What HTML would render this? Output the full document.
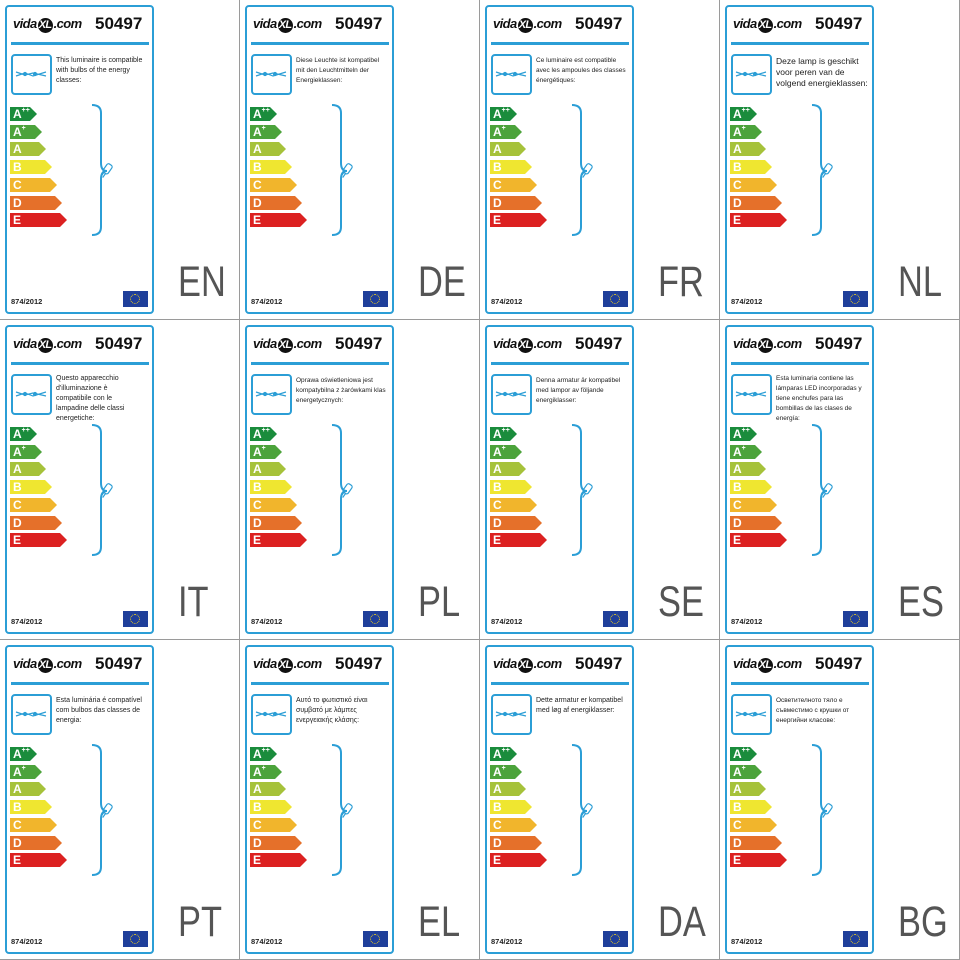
<!DOCTYPE html>
<html><head><meta charset="utf-8"><style>
*{margin:0;padding:0;box-sizing:border-box}
body{width:960px;height:960px;background:#fff;position:relative;overflow:hidden;font-family:"Liberation Sans","DejaVu Sans",sans-serif}
.cell{position:absolute;width:240px;height:320px;border-right:1px solid #9a9a9a;border-bottom:1px solid #9a9a9a}
.lab{position:absolute;left:5px;top:5px;width:149px;height:309px;border:2px solid #2b9ed6;border-radius:4px}
.logo{position:absolute;left:13px;top:16px;font:italic bold 13px "Liberation Sans",sans-serif;color:#111;letter-spacing:-0.6px}
.logo b{display:inline-block;background:#111;color:#fff;border-radius:50%;width:15px;height:15px;text-align:center;font-size:11px;line-height:15px;margin:0 1px}
.num{position:absolute;left:95px;top:14px;font:bold 17px "Liberation Sans",sans-serif;color:#111}
.hl{position:absolute;left:11px;top:42px;width:138px;height:3px;background:#2b9ed6}
.box{position:absolute;left:11px;top:54px;width:41px;height:41px;border:2.5px solid #2b9ed6;border-radius:4px}
.txt{position:absolute;left:56px;top:56px;width:96px;font:7px/10px "Liberation Sans","DejaVu Sans",sans-serif;color:#222;white-space:nowrap}
.bar{position:absolute;left:10px;height:14px;color:#fff;font:bold 12px/14px "Liberation Sans",sans-serif;padding-left:3px;clip-path:polygon(0 0,calc(100% - 7px) 0,100% 50%,calc(100% - 7px) 100%,0 100%)}
.bar sup{font-size:7px;vertical-align:top;line-height:8px}
.reg{position:absolute;left:11px;top:297px;font:bold 7.5px "Liberation Sans",sans-serif;color:#222}
.eu{position:absolute;left:123px;top:291px;width:25px;height:16px;background:#1f3f9a}
.eu i{position:absolute;left:7px;top:3px;width:10px;height:10px;border:1.5px dotted #f4d21c;border-radius:50%}
.lang{position:absolute;left:178px;top:258px;font:43px "Liberation Sans",sans-serif;color:#555;transform:scaleX(0.8);transform-origin:0 0}
.br{position:absolute;left:84px;top:103px}
</style></head><body>
<svg width="0" height="0" style="position:absolute"><defs>
<symbol id="bk" viewBox="0 0 30 135"><path d="M3 2 Q12 2 12 10 L12 60 Q12 68 18 68 Q12 68 12 76 L12 124 Q12 132 3 132" fill="none" stroke="#2b9ed6" stroke-width="2"/><g transform="translate(19,60) rotate(35)" stroke="#2b9ed6" stroke-width="1.2" fill="none"><rect x="0" y="0" width="6" height="10" rx="2"/><line x1="2" y1="10" x2="2" y2="15"/><line x1="4" y1="10" x2="4" y2="15"/></g></symbol>
<symbol id="lm" viewBox="0 0 36 36"><g stroke="#2b9ed6" stroke-width="1.2" fill="none"><path d="M3 16 L12 19 L20 17 L33 20"/><path d="M3 20 L12 17 L20 20 L33 16"/><circle cx="12" cy="18" r="1.5" fill="#2b9ed6"/><circle cx="22" cy="18" r="1.5" fill="#2b9ed6"/></g></symbol>
</defs></svg>

<div class="cell" style="left:0;top:0"><div class="lab"></div><div class="logo">vida<b>XL</b>.com</div><div class="num">50497</div><div class="hl"></div><div class="box"><svg width="36" height="36"><use href="#lm"/></svg></div>
<div class="txt">This luminaire is compatible<br>with bulbs of the energy<br>classes:</div>
<div class="bar" style="top:107px;width:27px;background:#1a8c3c">A<sup>++</sup></div><div class="bar" style="top:125px;width:32px;background:#4ca33b">A<sup>+</sup></div><div class="bar" style="top:142px;width:36px;background:#a6c23a">A</div><div class="bar" style="top:160px;width:42px;background:#efe630">B</div><div class="bar" style="top:178px;width:47px;background:#f1b52c">C</div><div class="bar" style="top:196px;width:52px;background:#e5702a">D</div><div class="bar" style="top:213px;width:57px;background:#dc2121">E</div>
<svg class="br" width="40" height="135"><use href="#bk"/></svg><div class="reg">874/2012</div><div class="eu"><i></i></div><div class="lang">EN</div></div>

<div class="cell" style="left:240px;top:0"><div class="lab"></div><div class="logo">vida<b>XL</b>.com</div><div class="num">50497</div><div class="hl"></div><div class="box"><svg width="36" height="36"><use href="#lm"/></svg></div>
<div class="txt" style="font-size:6.5px">Diese Leuchte ist kompatibel<br>mit den Leuchtmitteln der<br>Energieklassen:</div>
<div class="bar" style="top:107px;width:27px;background:#1a8c3c">A<sup>++</sup></div><div class="bar" style="top:125px;width:32px;background:#4ca33b">A<sup>+</sup></div><div class="bar" style="top:142px;width:36px;background:#a6c23a">A</div><div class="bar" style="top:160px;width:42px;background:#efe630">B</div><div class="bar" style="top:178px;width:47px;background:#f1b52c">C</div><div class="bar" style="top:196px;width:52px;background:#e5702a">D</div><div class="bar" style="top:213px;width:57px;background:#dc2121">E</div>
<svg class="br" width="40" height="135"><use href="#bk"/></svg><div class="reg">874/2012</div><div class="eu"><i></i></div><div class="lang">DE</div></div>

<div class="cell" style="left:480px;top:0"><div class="lab"></div><div class="logo">vida<b>XL</b>.com</div><div class="num">50497</div><div class="hl"></div><div class="box"><svg width="36" height="36"><use href="#lm"/></svg></div>
<div class="txt" style="font-size:6.5px">Ce luminaire est compatible<br>avec les ampoules des classes<br>énergétiques:</div>
<div class="bar" style="top:107px;width:27px;background:#1a8c3c">A<sup>++</sup></div><div class="bar" style="top:125px;width:32px;background:#4ca33b">A<sup>+</sup></div><div class="bar" style="top:142px;width:36px;background:#a6c23a">A</div><div class="bar" style="top:160px;width:42px;background:#efe630">B</div><div class="bar" style="top:178px;width:47px;background:#f1b52c">C</div><div class="bar" style="top:196px;width:52px;background:#e5702a">D</div><div class="bar" style="top:213px;width:57px;background:#dc2121">E</div>
<svg class="br" width="40" height="135"><use href="#bk"/></svg><div class="reg">874/2012</div><div class="eu"><i></i></div><div class="lang">FR</div></div>

<div class="cell" style="left:720px;top:0"><div class="lab"></div><div class="logo">vida<b>XL</b>.com</div><div class="num">50497</div><div class="hl"></div><div class="box"><svg width="36" height="36"><use href="#lm"/></svg></div>
<div class="txt" style="font-size:8.5px;line-height:11px">Deze lamp is geschikt<br>voor peren van de<br>volgend energieklassen:</div>
<div class="bar" style="top:107px;width:27px;background:#1a8c3c">A<sup>++</sup></div><div class="bar" style="top:125px;width:32px;background:#4ca33b">A<sup>+</sup></div><div class="bar" style="top:142px;width:36px;background:#a6c23a">A</div><div class="bar" style="top:160px;width:42px;background:#efe630">B</div><div class="bar" style="top:178px;width:47px;background:#f1b52c">C</div><div class="bar" style="top:196px;width:52px;background:#e5702a">D</div><div class="bar" style="top:213px;width:57px;background:#dc2121">E</div>
<svg class="br" width="40" height="135"><use href="#bk"/></svg><div class="reg">874/2012</div><div class="eu"><i></i></div><div class="lang">NL</div></div>

<div class="cell" style="left:0;top:320px"><div class="lab"></div><div class="logo">vida<b>XL</b>.com</div><div class="num">50497</div><div class="hl"></div><div class="box"><svg width="36" height="36"><use href="#lm"/></svg></div>
<div class="txt" style="top:54px">Questo apparecchio<br>d'illuminazione è<br>compatibile con le<br>lampadine delle classi<br>energetiche:</div>
<div class="bar" style="top:107px;width:27px;background:#1a8c3c">A<sup>++</sup></div><div class="bar" style="top:125px;width:32px;background:#4ca33b">A<sup>+</sup></div><div class="bar" style="top:142px;width:36px;background:#a6c23a">A</div><div class="bar" style="top:160px;width:42px;background:#efe630">B</div><div class="bar" style="top:178px;width:47px;background:#f1b52c">C</div><div class="bar" style="top:196px;width:52px;background:#e5702a">D</div><div class="bar" style="top:213px;width:57px;background:#dc2121">E</div>
<svg class="br" width="40" height="135"><use href="#bk"/></svg><div class="reg">874/2012</div><div class="eu"><i></i></div><div class="lang">IT</div></div>

<div class="cell" style="left:240px;top:320px"><div class="lab"></div><div class="logo">vida<b>XL</b>.com</div><div class="num">50497</div><div class="hl"></div><div class="box"><svg width="36" height="36"><use href="#lm"/></svg></div>
<div class="txt" style="font-size:6.5px">Oprawa oświetleniowa jest<br>kompatybilna z żarówkami klas<br>energetycznych:</div>
<div class="bar" style="top:107px;width:27px;background:#1a8c3c">A<sup>++</sup></div><div class="bar" style="top:125px;width:32px;background:#4ca33b">A<sup>+</sup></div><div class="bar" style="top:142px;width:36px;background:#a6c23a">A</div><div class="bar" style="top:160px;width:42px;background:#efe630">B</div><div class="bar" style="top:178px;width:47px;background:#f1b52c">C</div><div class="bar" style="top:196px;width:52px;background:#e5702a">D</div><div class="bar" style="top:213px;width:57px;background:#dc2121">E</div>
<svg class="br" width="40" height="135"><use href="#bk"/></svg><div class="reg">874/2012</div><div class="eu"><i></i></div><div class="lang">PL</div></div>

<div class="cell" style="left:480px;top:320px"><div class="lab"></div><div class="logo">vida<b>XL</b>.com</div><div class="num">50497</div><div class="hl"></div><div class="box"><svg width="36" height="36"><use href="#lm"/></svg></div>
<div class="txt" style="font-size:6.5px">Denna armatur är kompatibel<br>med lampor av följande<br>energiklasser:</div>
<div class="bar" style="top:107px;width:27px;background:#1a8c3c">A<sup>++</sup></div><div class="bar" style="top:125px;width:32px;background:#4ca33b">A<sup>+</sup></div><div class="bar" style="top:142px;width:36px;background:#a6c23a">A</div><div class="bar" style="top:160px;width:42px;background:#efe630">B</div><div class="bar" style="top:178px;width:47px;background:#f1b52c">C</div><div class="bar" style="top:196px;width:52px;background:#e5702a">D</div><div class="bar" style="top:213px;width:57px;background:#dc2121">E</div>
<svg class="br" width="40" height="135"><use href="#bk"/></svg><div class="reg">874/2012</div><div class="eu"><i></i></div><div class="lang">SE</div></div>

<div class="cell" style="left:720px;top:320px"><div class="lab"></div><div class="logo">vida<b>XL</b>.com</div><div class="num">50497</div><div class="hl"></div><div class="box"><svg width="36" height="36"><use href="#lm"/></svg></div>
<div class="txt" style="font-size:6.5px;top:54px">Esta luminaria contiene las<br>lámparas LED incorporadas y<br>tiene enchufes para las<br>bombillas de las clases de<br>energía:</div>
<div class="bar" style="top:107px;width:27px;background:#1a8c3c">A<sup>++</sup></div><div class="bar" style="top:125px;width:32px;background:#4ca33b">A<sup>+</sup></div><div class="bar" style="top:142px;width:36px;background:#a6c23a">A</div><div class="bar" style="top:160px;width:42px;background:#efe630">B</div><div class="bar" style="top:178px;width:47px;background:#f1b52c">C</div><div class="bar" style="top:196px;width:52px;background:#e5702a">D</div><div class="bar" style="top:213px;width:57px;background:#dc2121">E</div>
<svg class="br" width="40" height="135"><use href="#bk"/></svg><div class="reg">874/2012</div><div class="eu"><i></i></div><div class="lang">ES</div></div>

<div class="cell" style="left:0;top:640px"><div class="lab"></div><div class="logo">vida<b>XL</b>.com</div><div class="num">50497</div><div class="hl"></div><div class="box"><svg width="36" height="36"><use href="#lm"/></svg></div>
<div class="txt">Esta luminária é compatível<br>com bulbos das classes de<br>energia:</div>
<div class="bar" style="top:107px;width:27px;background:#1a8c3c">A<sup>++</sup></div><div class="bar" style="top:125px;width:32px;background:#4ca33b">A<sup>+</sup></div><div class="bar" style="top:142px;width:36px;background:#a6c23a">A</div><div class="bar" style="top:160px;width:42px;background:#efe630">B</div><div class="bar" style="top:178px;width:47px;background:#f1b52c">C</div><div class="bar" style="top:196px;width:52px;background:#e5702a">D</div><div class="bar" style="top:213px;width:57px;background:#dc2121">E</div>
<svg class="br" width="40" height="135"><use href="#bk"/></svg><div class="reg">874/2012</div><div class="eu"><i></i></div><div class="lang">PT</div></div>

<div class="cell" style="left:240px;top:640px"><div class="lab"></div><div class="logo">vida<b>XL</b>.com</div><div class="num">50497</div><div class="hl"></div><div class="box"><svg width="36" height="36"><use href="#lm"/></svg></div>
<div class="txt">Αυτό το φωτιστικό είναι<br>συμβατό με λάμπες<br>ενεργειακής κλάσης:</div>
<div class="bar" style="top:107px;width:27px;background:#1a8c3c">A<sup>++</sup></div><div class="bar" style="top:125px;width:32px;background:#4ca33b">A<sup>+</sup></div><div class="bar" style="top:142px;width:36px;background:#a6c23a">A</div><div class="bar" style="top:160px;width:42px;background:#efe630">B</div><div class="bar" style="top:178px;width:47px;background:#f1b52c">C</div><div class="bar" style="top:196px;width:52px;background:#e5702a">D</div><div class="bar" style="top:213px;width:57px;background:#dc2121">E</div>
<svg class="br" width="40" height="135"><use href="#bk"/></svg><div class="reg">874/2012</div><div class="eu"><i></i></div><div class="lang">EL</div></div>

<div class="cell" style="left:480px;top:640px"><div class="lab"></div><div class="logo">vida<b>XL</b>.com</div><div class="num">50497</div><div class="hl"></div><div class="box"><svg width="36" height="36"><use href="#lm"/></svg></div>
<div class="txt">Dette armatur er kompatibel<br>med løg af energiklasser:</div>
<div class="bar" style="top:107px;width:27px;background:#1a8c3c">A<sup>++</sup></div><div class="bar" style="top:125px;width:32px;background:#4ca33b">A<sup>+</sup></div><div class="bar" style="top:142px;width:36px;background:#a6c23a">A</div><div class="bar" style="top:160px;width:42px;background:#efe630">B</div><div class="bar" style="top:178px;width:47px;background:#f1b52c">C</div><div class="bar" style="top:196px;width:52px;background:#e5702a">D</div><div class="bar" style="top:213px;width:57px;background:#dc2121">E</div>
<svg class="br" width="40" height="135"><use href="#bk"/></svg><div class="reg">874/2012</div><div class="eu"><i></i></div><div class="lang">DA</div></div>

<div class="cell" style="left:720px;top:640px"><div class="lab"></div><div class="logo">vida<b>XL</b>.com</div><div class="num">50497</div><div class="hl"></div><div class="box"><svg width="36" height="36"><use href="#lm"/></svg></div>
<div class="txt" style="font-size:6.5px">Осветителното тяло е<br>съвместимо с крушки от<br>енергийни класове:</div>
<div class="bar" style="top:107px;width:27px;background:#1a8c3c">A<sup>++</sup></div><div class="bar" style="top:125px;width:32px;background:#4ca33b">A<sup>+</sup></div><div class="bar" style="top:142px;width:36px;background:#a6c23a">A</div><div class="bar" style="top:160px;width:42px;background:#efe630">B</div><div class="bar" style="top:178px;width:47px;background:#f1b52c">C</div><div class="bar" style="top:196px;width:52px;background:#e5702a">D</div><div class="bar" style="top:213px;width:57px;background:#dc2121">E</div>
<svg class="br" width="40" height="135"><use href="#bk"/></svg><div class="reg">874/2012</div><div class="eu"><i></i></div><div class="lang">BG</div></div>
</body></html>
